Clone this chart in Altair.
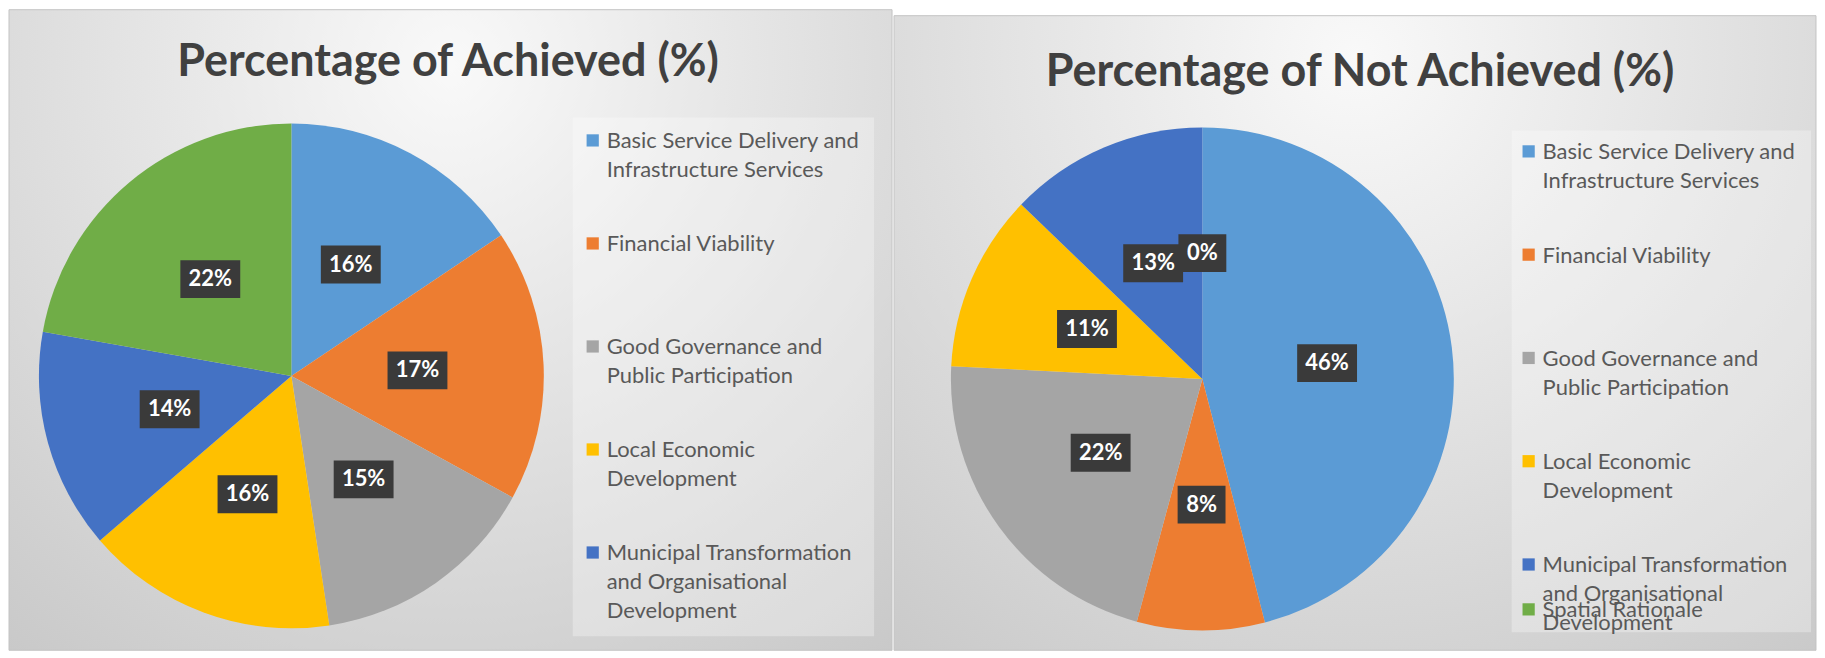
import altair as alt
import pandas as pd

categories = [
    "Basic Service Delivery and Infrastructure Services",
    "Financial Viability",
    "Good Governance and Public Participation",
    "Local Economic Development",
    "Municipal Transformation and Organisational Development",
    "Spatial Rationale",
]
legend_lines = [
    "Basic Service Delivery and\nInfrastructure Services",
    "Financial Viability",
    "Good Governance and\nPublic Participation",
    "Local Economic\nDevelopment",
    "Municipal Transformation\nand Organisational\nDevelopment",
    "Spatial Rationale",
]
colors = ["#5B9BD5", "#ED7D31", "#A5A5A5", "#FFC000", "#4472C4", "#70AD47"]
achieved = [15.6, 17.4, 14.6, 16.1, 14.1, 22.2]
not_achieved = [46.0, 8.2, 21.6, 11.4, 12.8, 0.0]
titles = ["Percentage of Achieved (%)", "Percentage of Not Achieved (%)"]

FONT = "Lato"
color_scale = alt.Scale(domain=categories, range=colors)
BOX3 = "M-1,-0.633L1,-0.633L1,0.633L-1,0.633Z"
BOX2 = "M-0.8,-0.633L0.8,-0.633L0.8,0.633L-0.8,0.633Z"


def panel(values, title, W, H, top, cx, cy, R, title_xy, lbox, sq_x, tx_x, leg_range, spatial_y):
    df = pd.DataFrame({"cat": categories, "legend": legend_lines, "val": values,
                       "ord": list(range(len(categories)))})

    bg = alt.Chart(pd.DataFrame({"a": [0]})).mark_rect(
        fill=alt.RadialGradient(
            gradient="radial",
            stops=[alt.GradientStop(offset=0, color="#f9f9f9"),
                   alt.GradientStop(offset=1, color="#c2c2c2")],
            x1=0.5, y1=0.2, x2=0.5, y2=0.2, r1=0, r2=0.95),
        stroke="#c4c4c4", strokeWidth=1,
    ).encode(x=alt.value(0), x2=alt.value(W), y=alt.value(top), y2=alt.value(H))

    legbox = alt.Chart(pd.DataFrame({"a": [0]})).mark_rect(
        fill="#ffffff", fillOpacity=0.3
    ).encode(x=alt.value(lbox[0]), x2=alt.value(lbox[1]), y=alt.value(lbox[2]), y2=alt.value(lbox[3]))

    ttl = alt.Chart(pd.DataFrame({"t": [title]})).mark_text(
        font=FONT, fontSize=45, fontWeight="bold", color="#404040", baseline="middle"
    ).encode(text="t:N", x=alt.value(title_xy[0]), y=alt.value(title_xy[1]))

    arcs = alt.Chart(df).mark_arc(outerRadius=R).encode(
        theta=alt.Theta("val:Q", stack=True),
        color=alt.Color("cat:N", scale=color_scale, legend=None),
        order=alt.Order("ord:Q"),
        x=alt.value(cx), y=alt.value(cy),
    )

    base = alt.Chart(df).transform_joinaggregate(total="sum(val)").transform_window(
        cum="sum(val)", sort=[alt.SortField("ord")], frame=[None, 0]
    ).transform_calculate(
        mid="2*PI*(datum.cum - datum.val/2)/datum.total",
        lx="0.5*sin(datum.mid)",
        ly="0.5*cos(datum.mid)",
        txt="format(datum.val, '.0f') + '%'",
    ).transform_calculate(
        shp=f"length(datum.txt) > 2 ? '{BOX3}' : '{BOX2}'"
    )
    xs = alt.Scale(domain=[-1, 1], range=[cx - R, cx + R])
    ys = alt.Scale(domain=[-1, 1], range=[cy + R, cy - R])
    boxes = base.mark_point(filled=True, color="#3a3a3a", opacity=1, size=3600, strokeWidth=0).encode(
        x=alt.X("lx:Q", scale=xs, axis=None),
        y=alt.Y("ly:Q", scale=ys, axis=None),
        shape=alt.Shape("shp:N", scale=None),
    )
    labels = base.mark_text(font=FONT, fontSize=22, fontWeight="bold", color="white", baseline="middle").encode(
        x=alt.X("lx:Q", scale=xs, axis=None),
        y=alt.Y("ly:Q", scale=ys, axis=None),
        text="txt:N",
    )

    leg = alt.Chart(df).transform_filter(alt.datum.ord < 5)
    ly_enc = alt.Y("cat:N", scale=alt.Scale(type="point", domain=categories[:5], range=leg_range, padding=0), axis=None)
    leg_sq = leg.mark_square(size=150, opacity=1).encode(
        x=alt.value(sq_x), y=ly_enc,
        color=alt.Color("cat:N", scale=color_scale, legend=None),
    )
    leg_tx = leg.mark_text(align="left", baseline="alphabetic", dy=8, lineBreak="\n", lineHeight=29,
                           font=FONT, fontSize=22, color="#595959").encode(
        x=alt.value(tx_x), y=ly_enc, text="legend:N")

    layers = [bg, legbox, ttl, arcs, boxes, labels, leg_sq, leg_tx]
    if spatial_y is not None:
        sp = alt.Chart(df).transform_filter(alt.datum.ord == 5)
        layers.append(sp.mark_square(size=150, opacity=1).encode(
            x=alt.value(sq_x), y=alt.value(spatial_y),
            color=alt.Color("cat:N", scale=color_scale, legend=None)))
        layers.append(sp.mark_text(align="left", baseline="alphabetic", dy=8, font=FONT, fontSize=22,
                                   color="#595959").encode(
            x=alt.value(tx_x), y=alt.value(spatial_y), text="legend:N"))

    return alt.layer(*layers).properties(width=W, height=H).resolve_scale(x="independent", y="independent")


left = panel(achieved, titles[0], 885, 642, 0, 283, 367, 253, (440, 52),
             (565, 867, 108, 628), 585, 599, [131, 544], None)
right = panel(not_achieved, titles[1], 924, 642, 6, 309, 370, 252, (467, 62),
              (619, 919, 121, 624), 636, 650, [142, 556], 601)

chart = alt.hconcat(left, right, spacing=0).properties(padding=0).configure_view(stroke="transparent")
chart.save("out.html", embed_options={"renderer": "svg", "actions": False})
